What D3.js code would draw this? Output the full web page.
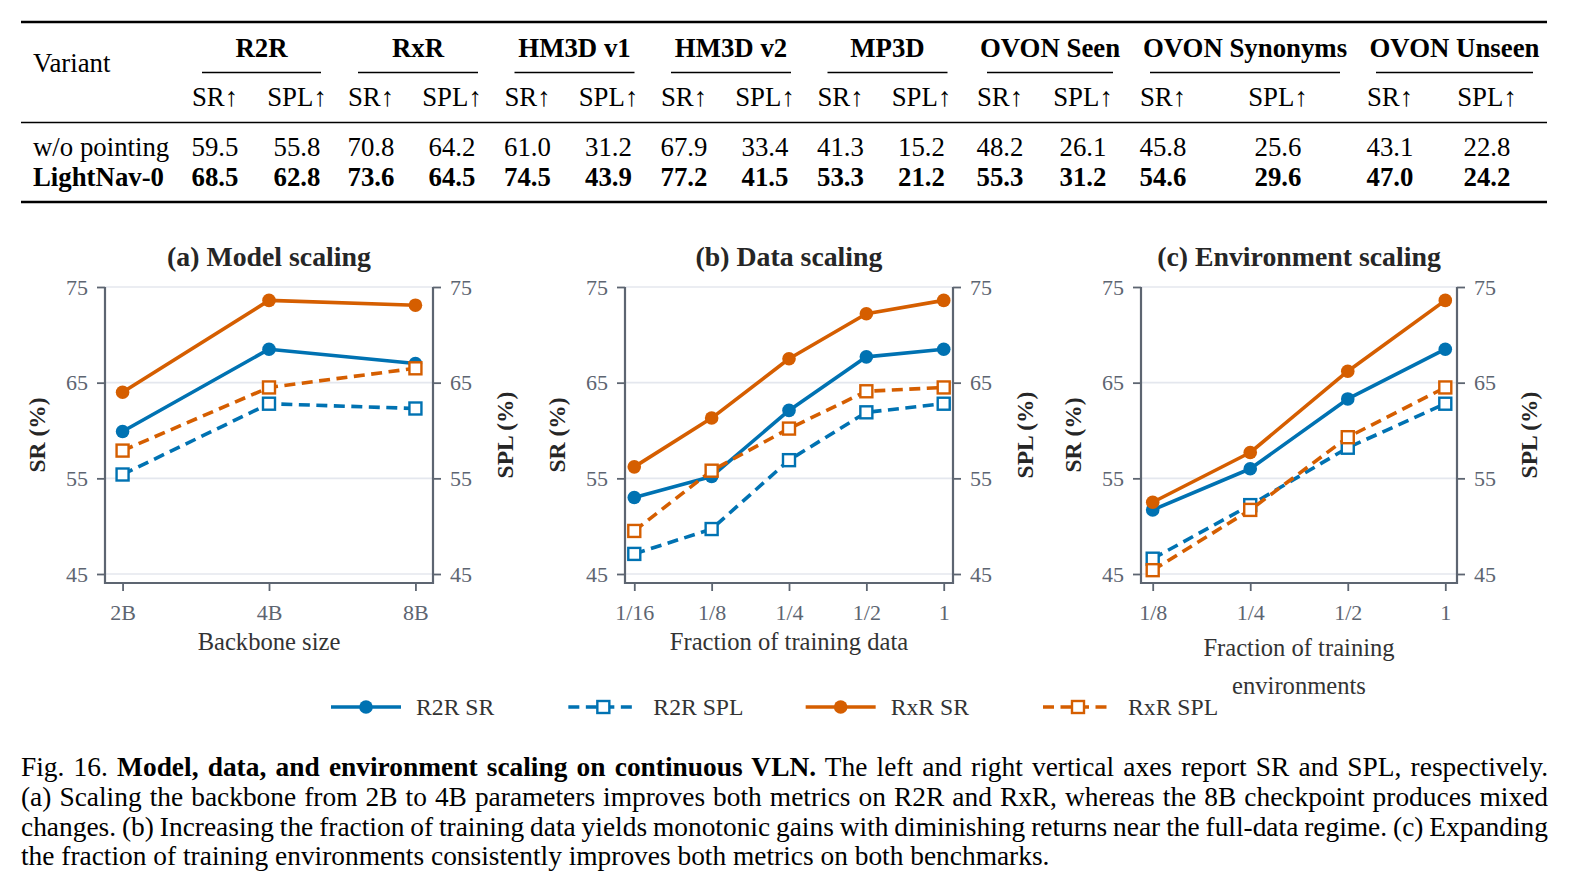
<!DOCTYPE html>
<html>
<head>
<meta charset="utf-8">
<script src="https://cdn.jsdelivr.net/npm/d3@7"></script>
<style>
  body { margin: 0; background: #fff; }
  #fig { position: relative; width: 1581px; height: 891px; overflow: hidden; }
  svg { position: absolute; left: 0; top: 0; }
  text { font-family: 'Liberation Serif', 'Times New Roman', serif; }
  .caption { position: absolute; left: 21px; width: 1527px; top: 753px;
    font-family: 'Liberation Serif', 'Times New Roman', serif; font-size: 27.4px;
    line-height: 29.8px; color: #000; }
  .caption .ln { text-align: justify; text-align-last: justify; white-space: nowrap; word-spacing: -2.5px; }
  .caption .ln.last { text-align-last: left; word-spacing: 0; }
</style>
</head>
<body>
<div id="fig"></div>
<script>
// ---- table data ----
const benchmarks = ['R2R', 'RxR', 'HM3D v1', 'HM3D v2', 'MP3D', 'OVON Seen', 'OVON Synonyms', 'OVON Unseen'];
const variants = ['w/o pointing', 'LightNav-0'];
const woPointingSR = [59.5, 70.8, 61.0, 67.9, 41.3, 48.2, 45.8, 43.1];
const woPointingSPL = [55.8, 64.2, 31.2, 33.4, 15.2, 26.1, 25.6, 22.8];
const lightNavSR = [68.5, 73.6, 74.5, 77.2, 53.3, 55.3, 54.6, 47.0];
const lightNavSPL = [62.8, 64.5, 43.9, 41.5, 21.2, 31.2, 29.6, 24.2];

// ---- chart data ----
const seriesNames = ['R2R SR', 'R2R SPL', 'RxR SR', 'RxR SPL'];
const yTicks = [45, 55, 65, 75];

const modelSizes = ['2B', '4B', '8B'];
const modelR2rSR = [59.9, 68.5, 67.0];
const modelR2rSPL = [55.4, 62.8, 62.3];
const modelRxrSR = [64.0, 73.6, 73.1];
const modelRxrSPL = [57.9, 64.5, 66.5];

const dataFractions = ['1/16', '1/8', '1/4', '1/2', '1'];
const dataR2rSR = [53.0, 55.2, 62.1, 67.7, 68.5];
const dataR2rSPL = [47.1, 49.7, 56.9, 61.9, 62.8];
const dataRxrSR = [56.2, 61.3, 67.5, 72.2, 73.6];
const dataRxrSPL = [49.5, 55.8, 60.2, 64.1, 64.5];

const envFractions = ['1/8', '1/4', '1/2', '1'];
const envR2rSR = [51.7, 56.0, 63.3, 68.5];
const envR2rSPL = [46.6, 52.2, 58.2, 62.8];
const envRxrSR = [52.5, 57.7, 66.2, 73.6];
const envRxrSPL = [45.4, 51.7, 59.3, 64.5];

const BLUE = '#0072B2', ORANGE = '#D55E00';
const SPINE = '#5d6571', GRID = '#e4e7ee', TICK_TXT = '#5d6571';

const fig = d3.select('#fig');
const svg = fig.append('svg').attr('width', 1581).attr('height', 891);

// ================= table =================
const table = svg.append('g').attr('class', 'table');
const tableLeft = 21, tableRight = 1547;
// column layout (SR / SPL centres, underline extents)
const colSR = [215, 371, 527.5, 684, 840.5, 1000, 1163, 1390];
const colSPL = [297, 452, 608.5, 765, 921.5, 1083, 1278, 1487];
const ruleStart = [202, 358, 514.5, 671, 827.5, 987, 1150, 1376];
const ruleEnd = [321, 478, 634.5, 791, 947.5, 1113, 1340, 1533];

function rule(y, w) {
  table.append('line').attr('x1', tableLeft).attr('x2', tableRight)
    .attr('y1', y).attr('y2', y).attr('stroke', '#000').attr('stroke-width', w);
}
rule(22, 2.6);
rule(122.5, 1.6);
rule(202, 2.6);

table.append('text').attr('x', 33).attr('y', 63).attr('dy', '0.34em')
  .attr('font-size', 26.8).text('Variant');

const groups = table.selectAll('g.bench').data(benchmarks).join('g').attr('class', 'bench');
groups.append('text')
  .attr('x', (d, i) => (ruleStart[i] + ruleEnd[i]) / 2)
  .attr('y', 48).attr('dy', '0.34em').attr('text-anchor', 'middle')
  .attr('font-size', 26.8).attr('font-weight', 'bold').text(d => d);
groups.append('line')
  .attr('x1', (d, i) => ruleStart[i]).attr('x2', (d, i) => ruleEnd[i])
  .attr('y1', 72.5).attr('y2', 72.5).attr('stroke', '#000').attr('stroke-width', 1.3);
groups.append('text').attr('x', (d, i) => colSR[i]).attr('y', 97).attr('dy', '0.34em')
  .attr('text-anchor', 'middle').attr('font-size', 26.8).text('SR\u2191');
groups.append('text').attr('x', (d, i) => colSPL[i]).attr('y', 97).attr('dy', '0.34em')
  .attr('text-anchor', 'middle').attr('font-size', 26.8).text('SPL\u2191');

const rows = [
  { name: variants[0], sr: woPointingSR, spl: woPointingSPL, bold: false, y: 147 },
  { name: variants[1], sr: lightNavSR, spl: lightNavSPL, bold: true, y: 177 },
];
rows.forEach(r => {
  const g = table.append('g').attr('font-size', 26.8).attr('font-weight', r.bold ? 'bold' : 'normal');
  g.append('text').attr('x', 33).attr('y', r.y).attr('dy', '0.34em').text(r.name);
  benchmarks.forEach((b, i) => {
    g.append('text').attr('x', colSR[i]).attr('y', r.y).attr('dy', '0.34em')
      .attr('text-anchor', 'middle').text(r.sr[i].toFixed(1));
    g.append('text').attr('x', colSPL[i]).attr('y', r.y).attr('dy', '0.34em')
      .attr('text-anchor', 'middle').text(r.spl[i].toFixed(1));
  });
});

// ================= charts =================
const yTop = 287, yBottom = 574, spineBottom = 583;

function panel(cfg) {
  const g = svg.append('g').attr('class', 'panel');
  const x = d3.scalePoint().domain(cfg.cats).range([cfg.left, cfg.right]).padding(0.12);
  const ySR = d3.scaleLinear().domain([45, 75]).range([yBottom, yTop]);
  const ySPL = d3.scaleLinear().domain([45, 75]).range([yBottom, yTop]);

  // grid
  g.append('g').selectAll('line').data(yTicks).join('line')
    .attr('x1', cfg.left).attr('x2', cfg.right)
    .attr('y1', d => ySR(d)).attr('y2', d => ySR(d))
    .attr('stroke', GRID).attr('stroke-width', 1.6);

  // axes
  const styleAxis = sel => {
    sel.select('.domain').remove();
    sel.selectAll('.tick line').attr('stroke', SPINE).attr('stroke-width', 1.8);
    sel.selectAll('.tick text').attr('fill', TICK_TXT).attr('font-size', 22)
      .attr('font-family', "'Liberation Serif', 'Times New Roman', serif");
  };
  g.append('g').attr('transform', `translate(${cfg.left},0)`)
    .call(d3.axisLeft(ySR).tickValues(yTicks).tickSize(8).tickPadding(9))
    .call(styleAxis);
  g.append('g').attr('transform', `translate(${cfg.right},0)`)
    .call(d3.axisRight(ySPL).tickValues(yTicks).tickSize(8).tickPadding(9))
    .call(styleAxis);
  g.append('g').attr('transform', `translate(0,${spineBottom})`)
    .call(d3.axisBottom(x).tickSize(8).tickPadding(13))
    .call(styleAxis);

  // spines
  g.append('path')
    .attr('d', `M${cfg.left},${yTop}V${spineBottom}H${cfg.right}V${yTop}`)
    .attr('fill', 'none').attr('stroke', SPINE).attr('stroke-width', 2.2);

  // series
  const series = [
    { vals: cfg.r2rSR, color: BLUE, dash: null, marker: 'circle', y: ySR },
    { vals: cfg.r2rSPL, color: BLUE, dash: '11,6.5', marker: 'square', y: ySPL },
    { vals: cfg.rxrSR, color: ORANGE, dash: null, marker: 'circle', y: ySR },
    { vals: cfg.rxrSPL, color: ORANGE, dash: '11,6.5', marker: 'square', y: ySPL },
  ];
  series.forEach(s => {
    const pts = cfg.cats.map((c, i) => [x(c), s.y(s.vals[i])]);
    g.append('path').attr('d', d3.line()(pts)).attr('fill', 'none')
      .attr('stroke', s.color).attr('stroke-width', 3.6)
      .attr('stroke-dasharray', s.dash).attr('stroke-linejoin', 'round');
    if (s.marker === 'circle') {
      g.append('g').selectAll('circle').data(pts).join('circle')
        .attr('cx', d => d[0]).attr('cy', d => d[1]).attr('r', 6.8).attr('fill', s.color);
    } else {
      g.append('g').selectAll('rect').data(pts).join('rect')
        .attr('x', d => d[0] - 6).attr('y', d => d[1] - 6).attr('width', 12).attr('height', 12)
        .attr('fill', '#fff').attr('stroke', s.color).attr('stroke-width', 2.4);
    }
  });

  // titles and labels
  const cx = (cfg.left + cfg.right) / 2, cy = (yTop + spineBottom) / 2;
  g.append('text').attr('x', cx).attr('y', 257).attr('dy', '0.34em').attr('text-anchor', 'middle')
    .attr('font-size', 27.8).attr('font-weight', 'bold').attr('fill', '#262626').text(cfg.title);
  g.append('text').attr('transform', `translate(${cfg.left - 68},${cy}) rotate(-90)`)
    .attr('dy', '0.34em').attr('text-anchor', 'middle').attr('font-size', 23.5)
    .attr('font-weight', 'bold').attr('fill', '#262626').text('SR (%)');
  g.append('text').attr('transform', `translate(${cfg.right + 72},${cy}) rotate(-90)`)
    .attr('dy', '0.34em').attr('text-anchor', 'middle').attr('font-size', 23.5)
    .attr('font-weight', 'bold').attr('fill', '#262626').text('SPL (%)');
  cfg.xlabel.forEach((t, i) => {
    g.append('text').attr('x', cx).attr('y', cfg.xlabelY + i * 38).attr('dy', '0.34em')
      .attr('text-anchor', 'middle').attr('font-size', 24.6).attr('fill', '#333').text(t);
  });
}

panel({ title: '(a) Model scaling', cats: modelSizes, left: 105, right: 433,
  r2rSR: modelR2rSR, r2rSPL: modelR2rSPL, rxrSR: modelRxrSR, rxrSPL: modelRxrSPL,
  xlabel: ['Backbone size'], xlabelY: 642 });
panel({ title: '(b) Data scaling', cats: dataFractions, left: 625, right: 953,
  r2rSR: dataR2rSR, r2rSPL: dataR2rSPL, rxrSR: dataRxrSR, rxrSPL: dataRxrSPL,
  xlabel: ['Fraction of training data'], xlabelY: 642 });
panel({ title: '(c) Environment scaling', cats: envFractions, left: 1141, right: 1457,
  r2rSR: envR2rSR, r2rSPL: envR2rSPL, rxrSR: envRxrSR, rxrSPL: envRxrSPL,
  xlabel: ['Fraction of training', 'environments'], xlabelY: 648 });

// ================= legend =================
const legendY = 707;
const legendX = d3.scalePoint().domain(seriesNames).range([331, 1043]);
const legendStyle = [
  { color: BLUE, dash: null, marker: 'circle' },
  { color: BLUE, dash: '11,6.5', marker: 'square' },
  { color: ORANGE, dash: null, marker: 'circle' },
  { color: ORANGE, dash: '11,6.5', marker: 'square' },
];
const leg = svg.append('g').selectAll('g').data(seriesNames).join('g')
  .attr('transform', d => `translate(${legendX(d)},${legendY})`);
leg.append('line').attr('x1', 0).attr('x2', 70).attr('stroke-width', 3.6)
  .attr('stroke', (d, i) => legendStyle[i].color)
  .attr('stroke-dasharray', (d, i) => legendStyle[i].dash);
leg.each(function (d, i) {
  const s = legendStyle[i];
  const sel = d3.select(this);
  if (s.marker === 'circle') sel.append('circle').attr('cx', 35).attr('r', 6.8).attr('fill', s.color);
  else sel.append('rect').attr('x', 29).attr('y', -6).attr('width', 12).attr('height', 12)
    .attr('fill', '#fff').attr('stroke', s.color).attr('stroke-width', 2.4);
});
leg.append('text').attr('x', 85).attr('dy', '0.34em').attr('font-size', 23.7)
  .attr('fill', '#333').text(d => d);

// ================= caption =================
const captionLines = [
  ['Fig. 16. ', 'Model, data, and environment scaling on continuous VLN.', ' The left and right vertical axes report SR and SPL, respectively.'],
  ['(a) Scaling the backbone from 2B to 4B parameters improves both metrics on R2R and RxR, whereas the 8B checkpoint produces mixed'],
  ['changes. (b) Increasing the fraction of training data yields monotonic gains with diminishing returns near the full-data regime. (c) Expanding'],
  ['the fraction of training environments consistently improves both metrics on both benchmarks.'],
];
const cap = fig.append('div').attr('class', 'caption');
cap.selectAll('div').data(captionLines).join('div')
  .attr('class', (d, i) => i === captionLines.length - 1 ? 'ln last' : 'ln')
  .each(function (parts) {
    const ln = d3.select(this);
    parts.forEach((p, j) => {
      ln.append('span').style('font-weight', parts.length > 1 && j === 1 ? 'bold' : 'normal').text(p);
    });
  });
</script>
</body>
</html>
